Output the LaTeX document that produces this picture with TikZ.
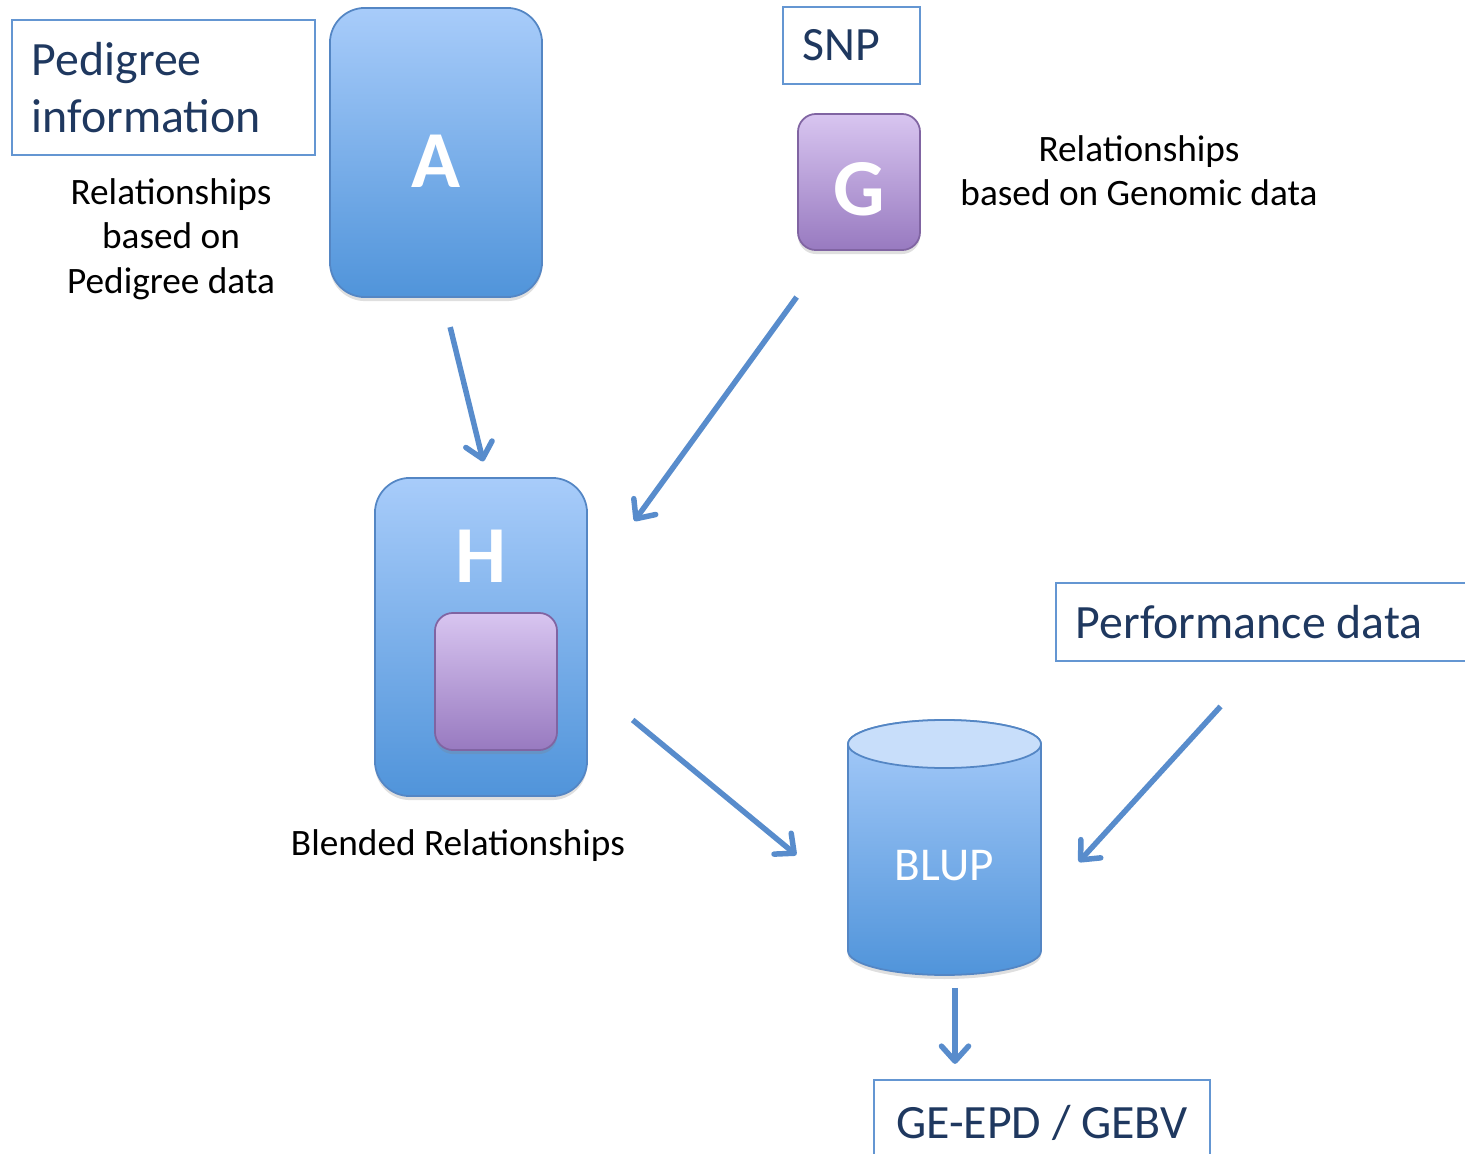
\documentclass[tikz,border=0pt]{standalone}
\usepackage{fontspec}
\setmainfont{Carlito}
\usepackage{tikz}
\usetikzlibrary{arrows.meta,positioning,shadows}

\definecolor{blutop}{RGB}{168,204,250}
\definecolor{blubot}{RGB}{80,148,218}
\definecolor{bluedge}{RGB}{84,134,196}
\definecolor{purtop}{RGB}{216,197,240}
\definecolor{purbot}{RGB}{152,122,192}
\definecolor{puredge}{RGB}{128,100,162}
\definecolor{cyltop}{RGB}{200,222,250}
\definecolor{arrowblue}{RGB}{88,140,204}
\definecolor{boxedge}{RGB}{100,150,210}
\definecolor{navy}{RGB}{31,56,95}

\begin{document}
\begin{tikzpicture}[x=0.01cm, y=-0.01cm,
  infobox/.style={rectangle, draw=boxedge, line width=0.6pt, text=navy,
    font=\fontsize{13.6}{16}\selectfont, align=flush left, inner sep=0pt},
  bluebox/.style={rectangle, rounded corners=0.35cm, draw=bluedge, line width=0.5pt,
    top color=blutop, bottom color=blubot,
    drop shadow={opacity=0.25, shadow xshift=0pt, shadow yshift=-0.04cm}},
  purplebox/.style={rectangle, rounded corners=0.18cm, draw=puredge, line width=0.5pt,
    top color=purtop, bottom color=purbot,
    drop shadow={opacity=0.25, shadow xshift=0pt, shadow yshift=-0.04cm}},
  letter/.style={text=white, font=\fontsize{23}{23}\bfseries\selectfont},
  caption/.style={font=\fontsize{10.6}{12.6}\selectfont, align=center},
  arr/.style={-{Straight Barb[length=0.15cm, width=0.27cm, round]}, line width=0.055cm, draw=arrowblue},
]
  \clip (0,0) rectangle (1465,1154);

  % source boxes
  \node[infobox, minimum width=3.03cm, minimum height=1.35cm, text width=2.63cm] (ped) at (163.5,87.5) {Pedigree\\information};
  \node[infobox, minimum width=1.37cm, minimum height=0.77cm, text width=0.97cm] (snp) at (851.5,45.5) {SNP};
  \node[infobox, minimum width=4.24cm, minimum height=0.78cm, text width=3.84cm] (perf) at (1268,622) {Performance data};
  \node[infobox, minimum width=3.36cm, minimum height=0.86cm, align=center] (gebv) at (1042,1123) {GE-EPD / GEBV};

  % matrices
  \node[bluebox, letter, minimum width=2.12cm, minimum height=2.89cm, text height=0.69cm, text depth=0pt] (A) at (436,152.5) {A};
  \node[purplebox, letter, minimum width=1.22cm, minimum height=1.36cm, text height=0.66cm, text depth=0pt] (G) at (859,182) {G};
  \node[bluebox, minimum width=2.12cm, minimum height=3.18cm] (H) at (481,637) {};
  \node[letter, inner sep=0pt, below=0.52cm of H.north] (Hlbl) {H};
  \node[purplebox, minimum width=1.22cm, minimum height=1.37cm] (Hg) at (496,681.5) {};

  % BLUP cylinder
  \draw[draw=bluedge, line width=0.5pt, top color=blutop, bottom color=blubot,
    drop shadow={opacity=0.25, shadow xshift=0pt, shadow yshift=-0.04cm}]
    (848,744) -- (848,951) arc[start angle=180, end angle=0, x radius=96.5, y radius=24]
    -- (1041,744) arc[start angle=0, end angle=-180, x radius=96.5, y radius=24] -- cycle;
  \draw[draw=bluedge, line width=0.5pt, fill=cyltop] (944.5,744) ellipse[x radius=96.5, y radius=24];
  \node[text=white, font=\fontsize{13.4}{16}\selectfont, minimum width=1.93cm, minimum height=2.55cm,
    text height=0.65cm, text depth=0pt] (blup) at (944.5,847.5) {BLUP};

  % captions
  \node[caption] (pedcap) at (171,239) {Relationships\\based on\\Pedigree data};
  \node[caption] (gencap) at (1139,171) {Relationships\\based on Genomic data};
  \node[caption] (hcap) at (458,846) {Blended Relationships};

  % arrows
  \draw[arr, shorten <=0.3cm, shorten >=0.16cm] ([xshift=0.07cm]A.south) -- ([xshift=0.06cm]H.north);
  \draw[arr, shorten <=0.57cm, shorten >=0.79cm] ([xshift=0.33cm]G.south west) -- ([yshift=0.52cm]H.east);
  \draw[arr, shorten <=0.58cm, shorten >=0.66cm] ([yshift=-0.46cm]H.east) -- ([yshift=-0.495cm]blup.west);
  \draw[arr, shorten <=0.6cm, shorten >=0.55cm] ([xshift=-0.07cm]perf.south) -- ([yshift=-0.55cm]blup.east);
  \coordinate (bout) at ([xshift=0.105cm]blup.south);
  \draw[arr, shorten <=0.12cm, shorten >=0.15cm] (bout) -- (bout |- gebv.north);
\end{tikzpicture}
\end{document}
